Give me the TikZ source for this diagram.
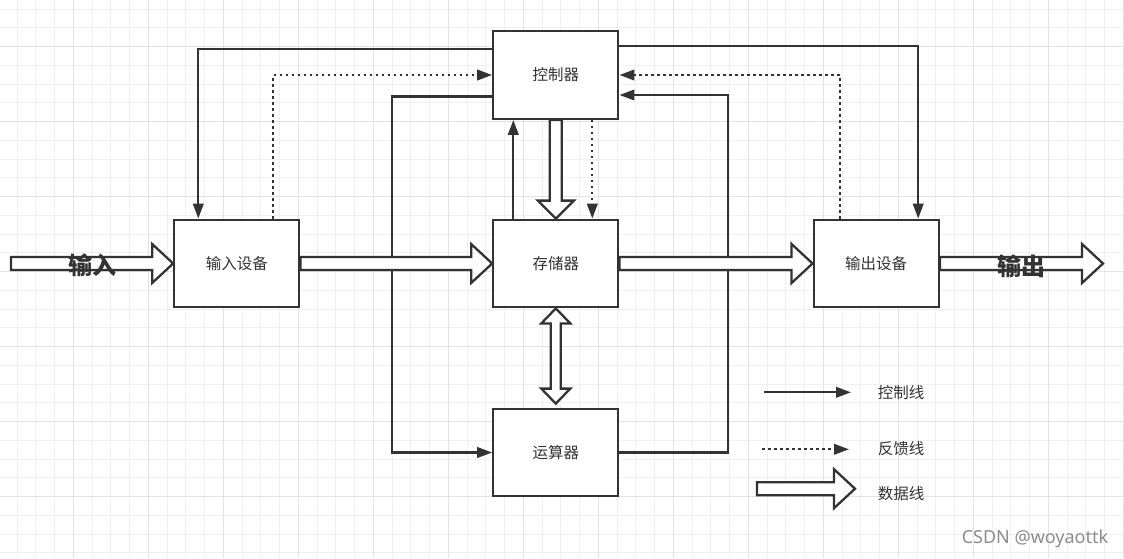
\documentclass[tikz,border=0pt]{standalone}
\usepackage{fontspec}
\usepackage{tikz}
\usetikzlibrary{arrows.meta,calc}
\newfontfamily\cjk{Noto Sans CJK SC}
\newfontfamily\markfont{Noto Sans}
\definecolor{inkcolor}{HTML}{333333}
\newcommand{\gridminor}{black!6}
\newcommand{\gridmajor}{black!11}
\newcommand{\shaft}{6.5pt}
\newcommand{\headw}{19.5pt}
\newcommand{\headl}{21pt}

% horizontal hollow arrow, #1 -> #2
\newcommand{\hdata}[2]{%
  \draw[dataline] let \p1=(#1), \p2=(#2) in
    (\x1,\y1+\shaft) -- (\x2-\headl,\y1+\shaft) -- (\x2-\headl,\y1+\headw) -- (\x2,\y1)
    -- (\x2-\headl,\y1-\headw) -- (\x2-\headl,\y1-\shaft) -- (\x1,\y1-\shaft) -- cycle;}
% vertical hollow arrow, downwards
\newcommand{\vdata}[2]{%
  \draw[dataline] let \p1=(#1), \p2=(#2) in
    (\x1-6pt,\y1) -- (\x1-6pt,\y2+18pt) -- (\x1-18pt,\y2+18pt) -- (\x1,\y2)
    -- (\x1+18pt,\y2+18pt) -- (\x1+6pt,\y2+18pt) -- (\x1+6pt,\y1) -- cycle;}
% vertical hollow arrow, both ends
\newcommand{\bdata}[2]{%
  \draw[dataline] let \p1=(#1), \p2=(#2) in
    (\x1,\y1) -- (\x1-14.5pt,\y1-15pt) -- (\x1-5pt,\y1-15pt) -- (\x1-5pt,\y2+19pt)
    -- (\x1-14.5pt,\y2+19pt) -- (\x1,\y2+4pt) -- (\x1+14.5pt,\y2+19pt) -- (\x1+5pt,\y2+19pt)
    -- (\x1+5pt,\y1-15pt) -- (\x1+14.5pt,\y1-15pt) -- cycle;}

\tikzset{
  unit/.style={draw=inkcolor, line width=2.3pt, fill=white, minimum width=125pt,
    minimum height=87.5pt, inner sep=0pt, text=inkcolor,
    font=\cjk\fontsize{15.5}{18}\selectfont},
  ctrl/.style={draw=inkcolor, line width=2.3pt, -{Triangle[length=15pt,width=10.5pt]}},
  feed/.style={ctrl, dash pattern=on 2.5pt off 3.5pt},
  dataline/.style={draw=inkcolor, line width=2.3pt, fill=white, line join=miter},
  bigtext/.style={text=inkcolor, font=\cjk\bfseries\fontsize{24}{28}\selectfont},
  legend/.style={text=inkcolor, font=\cjk\fontsize{15.5}{18}\selectfont},
}

\begin{document}
\begin{tikzpicture}[x=1pt, y=-1pt]
    \useasboundingbox (0,0) rectangle (1124,558);

    % grid
    \begin{scope}
        \clip (0,0) rectangle (1124,558);
        \foreach \k in {0,...,59} {
            \draw[\gridminor, line width=1pt] ({-1.7+18.75*\k},0) -- ++(0,558);
        }
        \foreach \k in {0,...,29} {
            \draw[\gridminor, line width=1pt] (0,{9.2+18.75*\k}) -- ++(1124,0);
        }
        \foreach \k in {0,...,15} {
            \draw[\gridmajor, line width=1pt] ({-1.7+75*\k},0) -- ++(0,558);
        }
        \foreach \k in {0,...,7} {
            \draw[\gridmajor, line width=1pt] (0,{-28.3+75*\k}) -- ++(1124,0);
        }
    \end{scope}

    % units
    \node[unit] (kong) at (555.8,75) {控制器};
    \node[unit] (cun) at (555.8,263.5) {存储器};
    \node[unit] (yun) at (555.8,452.5) {运算器};
    \node[unit] (inp) at (236.8,263.5) {输入设备};
    \node[unit] (outp) at (876.2,263.5) {输出设备};
    \coordinate (src) at (11,263.5);
    \coordinate (sink) at (1103,263.5);

    % control lines
    \draw[ctrl] ([yshift=26pt]kong.west) -| ([xshift=-38.5pt]inp.north);
    \draw[ctrl] ([yshift=-21.5pt]kong.west) -| ([xshift=-100pt]yun.west) -- (yun.west);
    \draw[ctrl] ([xshift=-42.5pt]cun.north) -- ([xshift=-42.5pt]kong.south);
    \draw[ctrl] (yun.east) -| ([xshift=108.4pt,yshift=-20pt]kong.east) -- ([yshift=-20pt]kong.east);
    \draw[ctrl] ([yshift=29pt]kong.east) -| ([xshift=42pt]outp.north);

    % feedback lines
    \draw[feed] ([xshift=36.5pt]inp.north) |- (kong.west);
    \draw[feed] ([xshift=36.5pt]kong.south) -- ([xshift=36.5pt]cun.north);
    \draw[feed] ([xshift=-36pt]outp.north) |- (kong.east);

    % data lines
    \hdata{src}{inp.west}
    \hdata{inp.east}{cun.west}
    \hdata{cun.east}{outp.west}
    \hdata{outp.east}{sink}
    \vdata{kong.south}{cun.north}
    \bdata{cun.south}{yun.north}

    % labels
    \node[bigtext] (intext) at (92.5,265) {输入};
    \node[bigtext] (outtext) at (1021,266) {输出};

    % legend
    \coordinate (c1) at (764,392.3);
    \coordinate (c2) at (851,392.3);
    \draw[ctrl] (c1) -- (c2);
    \node[legend] (lctrl) at (901,393) {控制线};
    \coordinate (f1) at (762,449.3);
    \coordinate (f2) at (849,449.3);
    \draw[feed] (f1) -- (f2);
    \node[legend] (lfeed) at (901,449) {反馈线};
    \coordinate (d1) at (757,488.7);
    \coordinate (d2) at (855,488.7);
    \hdata{d1}{d2}
    \node[legend] (ldata) at (901,494) {数据线};

    \node[text=black!45, font=\markfont\fontsize{18}{20}\selectfont] (mark) at (1035,539) {CSDN @woyaottk};
\end{tikzpicture}
\end{document}
